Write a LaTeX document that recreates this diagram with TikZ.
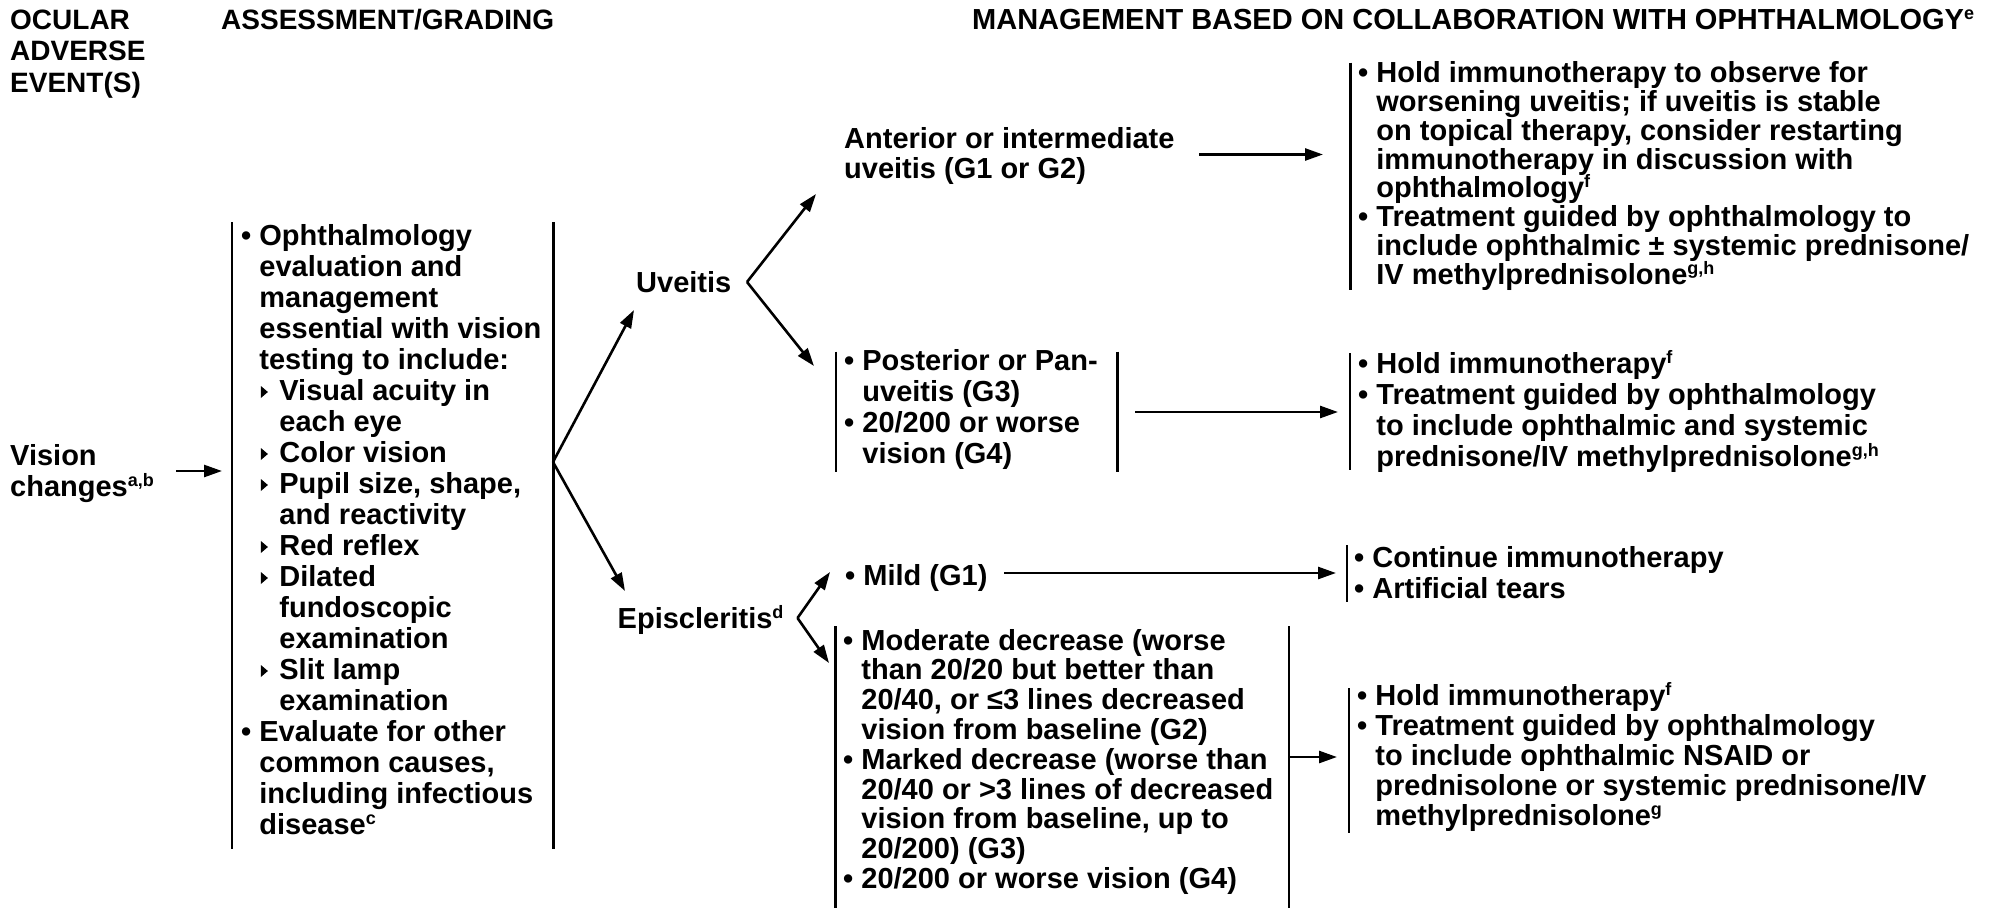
\documentclass[tikz,border=0pt]{standalone}
\usepackage{fontspec}
\setmainfont{Liberation Sans}
\usetikzlibrary{arrows.meta}
\newcommand\mlines[2]{\vtop{\baselineskip=#1pt\lineskiplimit=-\maxdimen\lineskip=0pt\halign{##\hfil\cr#2\crcr}}}
\newcommand\bul{\hbox to 18.2pt{\textbullet\hfil}}
\newcommand\ind{\hbox to 18.2pt{\hfil}}
\newcommand\tind{\hbox to 20pt{\hfil}}
\newcommand\tri{\hbox to 20pt{\hskip1.5pt\tikz[baseline=0pt]\fill (0pt,2pt) -- (0pt,14pt) -- (7pt,8pt) -- cycle;\hfil}}
\newcommand\sps[1]{\raisebox{10pt}{\fontsize{18}{18}\selectfont #1}}
\tikzset{
  txt/.style={inner sep=0pt, anchor=base west, font=\fontsize{29}{31}\selectfont\bfseries},
  hdr/.style={inner sep=0pt, anchor=base west, font=\fontsize{28}{31.5}\selectfont\bfseries},
  bar/.style={line width=2.6pt},
  arr/.style={line width=2.6pt, -{Triangle[length=18pt,width=12pt]}},
  frame/.style={inner sep=0pt, draw=none, minimum width=0pt},
}
\begin{document}
\begin{tikzpicture}[x=1pt,y=-1pt]
\useasboundingbox (0,0) rectangle (2011,911);
\fill[white] (0,0) rectangle (2011,911);

% headers
\node[hdr] (hOcular) at (10,29) {\mlines{31.5}{OCULAR\cr ADVERSE\cr EVENT(S)}};
\node[hdr] (hAssess) at (221,29) {ASSESSMENT/GRADING};
\node[hdr, font=\fontsize{29}{31}\selectfont\bfseries] (hMgmt) at (972,29) {MANAGEMENT BASED ON COLLABORATION WITH OPHTHALMOLOGY\sps{e}};

% vision changes
\node[txt] (vision) at (10,465) {\mlines{31.5}{Vision\cr changes\sps{a,b}}};
\coordinate (vStart) at (176,471);
\coordinate (vEnd) at (222,471);
\draw[arr] (vStart) -- (vEnd);

% assessment box
\node[frame, minimum width=321pt, minimum height=627pt, anchor=north west] (assess) at (232,222) {};
\draw[bar] (assess.north west) -- (assess.south west);
\draw[bar] (assess.north east) -- (assess.south east);
\node[txt] (assessText) at (241,245) {\mlines{31}{%
\bul Ophthalmology\cr
\ind evaluation and\cr
\ind management\cr
\ind essential with vision\cr
\ind testing to include:\cr
\ind\tri Visual acuity in\cr
\ind\tind each eye\cr
\ind\tri Color vision\cr
\ind\tri Pupil size, shape,\cr
\ind\tind and reactivity\cr
\ind\tri Red reflex\cr
\ind\tri Dilated\cr
\ind\tind fundoscopic\cr
\ind\tind examination\cr
\ind\tri Slit lamp\cr
\ind\tind examination\cr
\bul Evaluate for other\cr
\ind common causes,\cr
\ind including infectious\cr
\ind disease\sps{c}}};

% branches from assessment
\coordinate (b1) at (553,462);
\node[txt] (uveitis) at (636,292) {Uveitis};
\node[txt] (epi) at (617.5,628) {Episcleritis\sps{d}};
\coordinate (uvTip) at (634,310);
\coordinate (epTip) at (625,591);
\draw[arr] (b1) -- (uvTip);
\draw[arr] (b1) -- (epTip);

% uveitis branches
\coordinate (uv) at (747,282);
\coordinate (uvUp) at (816,194);
\coordinate (uvDown) at (814,366);
\draw[arr] (uv) -- (uvUp);
\draw[arr] (uv) -- (uvDown);

\node[txt] (ant) at (844,148) {\mlines{30}{Anterior or intermediate\cr uveitis (G1 or G2)}};
\coordinate (antA) at (1199,154.5);
\coordinate (antB) at (1323,154.5);
\draw[arr] (antA) -- (antB);

\node[frame, minimum height=227pt, anchor=north] (r1) at (1350.7,62.7) {};
\draw[bar] (r1.north) -- (r1.south);
\node[txt] (r1Text) at (1358,82.7) {\mlines{28.8}{%
\bul Hold immunotherapy to observe for\cr
\ind worsening uveitis; if uveitis is stable\cr
\ind on topical therapy, consider restarting\cr
\ind immunotherapy in discussion with\cr
\ind ophthalmology\sps{f}\cr
\bul Treatment guided by ophthalmology to\cr
\ind include ophthalmic \char"00B1{} systemic prednisone/\cr
\ind IV methylprednisolone\sps{g,h}}};

% posterior
\node[frame, minimum width=281pt, minimum height=120pt, anchor=north west] (post) at (836,351.7) {};
\draw[bar] (post.north west) -- (post.south west);
\draw[bar] (post.north east) -- (post.south east);
\node[txt] (postText) at (844,370) {\mlines{31}{%
\bul Posterior or Pan-\cr
\ind uveitis (G3)\cr
\bul 20/200 or worse\cr
\ind vision (G4)}};
\coordinate (postA) at (1135,412);
\coordinate (postB) at (1338,412);
\draw[arr] (postA) -- (postB);

\node[frame, minimum height=117pt, anchor=north] (r2) at (1350,353) {};
\draw[bar] (r2.north) -- (r2.south);
\node[txt] (r2Text) at (1358,373) {\mlines{31}{%
\bul Hold immunotherapy\sps{f}\cr
\bul Treatment guided by ophthalmology\cr
\ind to include ophthalmic and systemic\cr
\ind prednisone/IV methylprednisolone\sps{g,h}}};

% episcleritis branches
\coordinate (ep) at (797.5,618);
\coordinate (epUp) at (830,572);
\coordinate (epDown) at (829,663);
\draw[arr] (ep) -- (epUp);
\draw[arr] (ep) -- (epDown);

\node[txt] (mild) at (845,585) {\bul Mild (G1)};
\coordinate (mildA) at (1004,573);
\coordinate (mildB) at (1336,573);
\draw[arr] (mildA) -- (mildB);

\node[frame, minimum height=57pt, anchor=north] (r3) at (1347,545) {};
\draw[bar] (r3.north) -- (r3.south);
\node[txt] (r3Text) at (1354,567) {\mlines{31.5}{%
\bul Continue immunotherapy\cr
\bul Artificial tears}};

\node[frame, minimum width=453pt, minimum height=282pt, anchor=north west] (mod) at (835.5,626) {};
\draw[bar] (mod.north west) -- (mod.south west);
\draw[bar] (mod.north east) -- (mod.south east);
\node[txt] (modText) at (843,650) {\mlines{29.8}{%
\bul Moderate decrease (worse\cr
\ind than 20/20 but better than\cr
\ind 20/40, or \char"2264 3 lines decreased\cr
\ind vision from baseline (G2)\cr
\bul Marked decrease (worse than\cr
\ind 20/40 or >3 lines of decreased\cr
\ind vision from baseline, up to\cr
\ind 20/200) (G3)\cr
\bul 20/200 or worse vision (G4)}};
\coordinate (modA) at (1288.5,757);
\coordinate (modB) at (1337,757);
\draw[arr] (modA) -- (modB);

\node[frame, minimum height=145pt, anchor=north] (r4) at (1349,688) {};
\draw[bar] (r4.north) -- (r4.south);
\node[txt] (r4Text) at (1357,705) {\mlines{30}{%
\bul Hold immunotherapy\sps{f}\cr
\bul Treatment guided by ophthalmology\cr
\ind to include ophthalmic NSAID or\cr
\ind prednisolone or systemic prednisone/IV\cr
\ind methylprednisolone\sps{g}}};
\end{tikzpicture}
\end{document}
